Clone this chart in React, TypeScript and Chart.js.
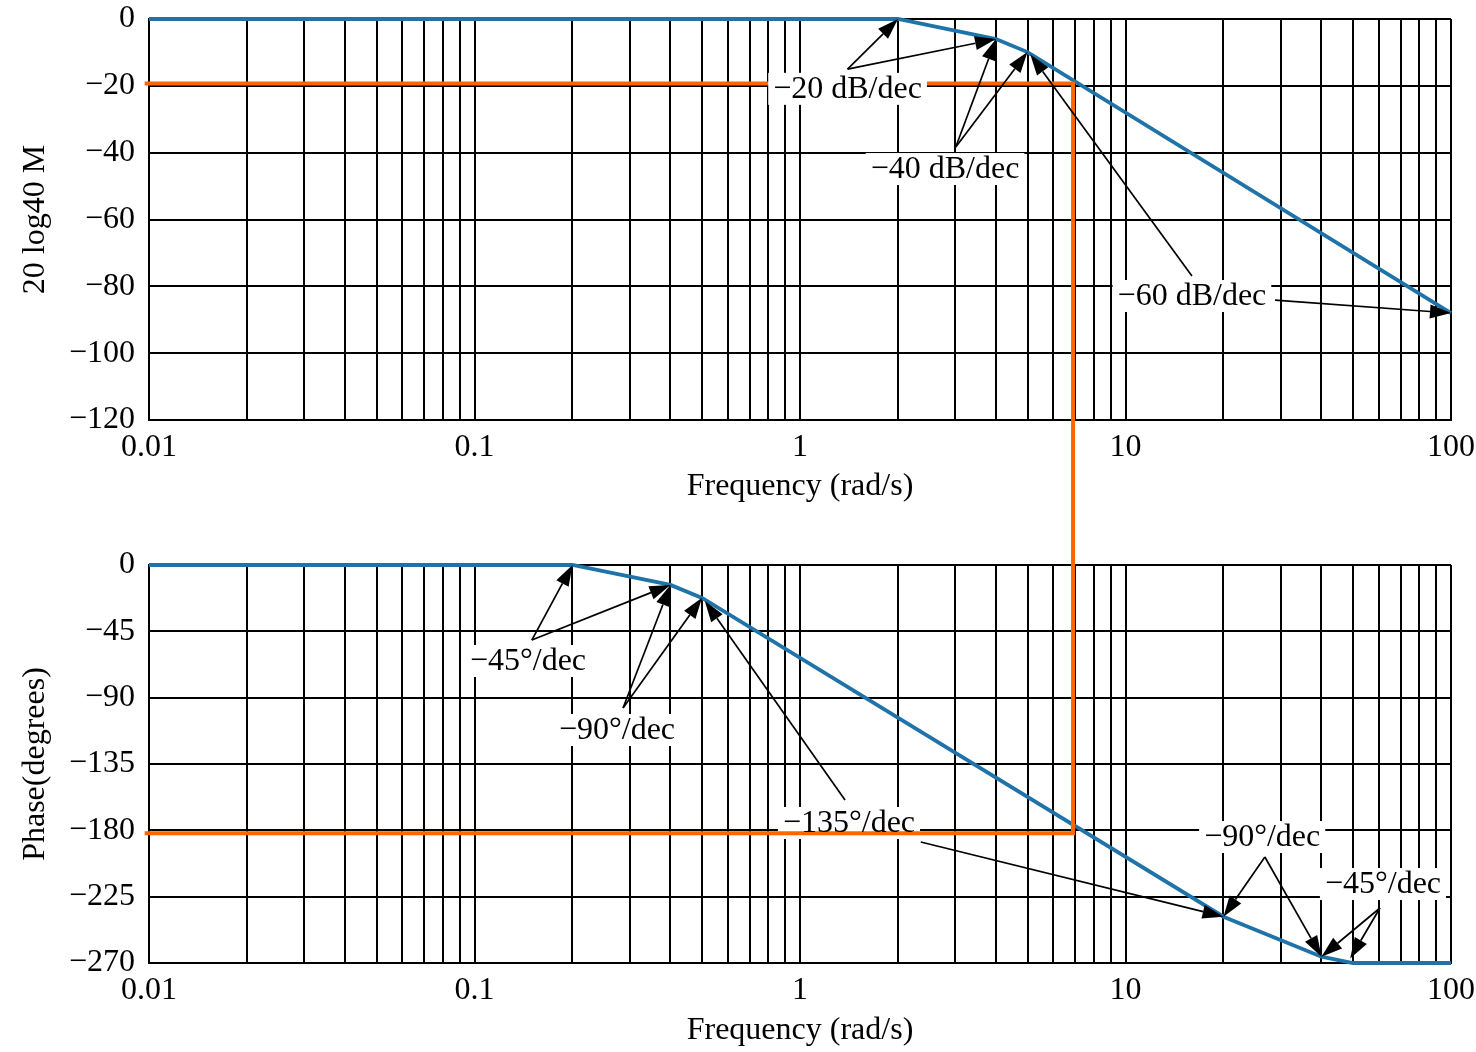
import React, { useEffect, useRef } from 'react';
import { Chart, registerables } from 'chart.js';

Chart.register(...registerables);

const FONT = '"Liberation Serif", "Times New Roman", serif';
const FONT_SIZE = 32;
const BLUE = '#1f73a8';
const ORANGE = '#ff6600';

// x axis (log): decades with labels, minor grid multipliers
const decadeTicks = [0.01, 0.1, 1, 10, 100];
const decadeLabels = ['0.01', '0.1', '1', '10', '100'];
const minorMultipliers = [1, 2, 3, 4, 5, 6, 7, 8, 9];

// magnitude (asymptotic) in dB
const magFreq = [0.01, 2, 4, 5, 100];
const magDb = [0, 0, -6.0, -9.9, -88.0];
const magMin = -120;
const magMax = 0;
const magStep = 20;

// phase (asymptotic) in degrees
const phaseFreq = [0.01, 0.2, 0.4, 0.5, 20, 40, 50, 100];
const phaseDeg = [0, 0, -13.5, -22.3, -238.6, -265.7, -270, -270];
const phaseMin = -270;
const phaseMax = 0;
const phaseStep = 45;

// orange marker path
const markerStartFreq = 0.0097;
const markerFreq = 6.9;
const markerMag = -19.3;
const markerPhase = -182;

// annotations: label text, label centre, arrows [tailX, tailY, tipX, tipY]
const magNoteTexts = ['−20 dB/dec', '−40 dB/dec', '−60 dB/dec'];
const magNoteAt = [[1.40, -21.2], [2.79, -45.2], [16.0, -83.2]];
const magNoteArrows = [
  [[1.40, -15.0, 2, 0], [1.40, -15.0, 4, -6.0]],
  [[3.01, -38.3, 4, -6.0], [3.01, -38.3, 5, -9.9]],
  [[16.0, -76.9, 5.1, -10.6], [28.8, -84.1, 100, -88.0]],
];

const phaseNoteTexts = ['−45°/dec', '−90°/dec', '−135°/dec', '−90°/dec', '−45°/dec'];
const phaseNoteAt = [[0.146, -65.8], [0.274, -112.6], [1.414, -175.7], [26.3, -185.2], [61.8, -217.1]];
const phaseNoteArrows = [
  [[0.150, -50.9, 0.2, 0], [0.150, -50.9, 0.4, -13.5]],
  [[0.286, -97, 0.4, -13.5], [0.286, -97, 0.5, -22.3]],
  [[1.375, -159.4, 0.51, -24.5], [2.35, -187.9, 20, -238.6]],
  [[26.8, -198.1, 20, -238.6], [26.8, -198.1, 40, -265.7]],
  [[60.5, -232.7, 40, -265.7], [60.5, -232.7, 49, -267]],
];

const W = 1476;
const H = 1052;

const gridValues: number[] = [];
decadeTicks.slice(0, -1).forEach((d) => minorMultipliers.forEach((m) => gridValues.push(+(d * m).toPrecision(6))));
gridValues.push(decadeTicks[decadeTicks.length - 1]);

function xLabel(v: number) {
  for (let i = 0; i < decadeTicks.length; i++) {
    if (Math.abs(Math.log10(v) - Math.log10(decadeTicks[i])) < 1e-6) return decadeLabels[i];
  }
  return '';
}
function yLabel(v: number) {
  return v < 0 ? '−' + Math.abs(v) : String(v);
}

function buildOptions(opts: {
  padTop: number; padBottom: number; xHeight: number; xTitlePad: number;
  yMin: number; yMax: number; yStep: number; yTitle: string;
}) {
  const font = { family: FONT, size: FONT_SIZE };
  return {
    responsive: false,
    animation: false as const,
    events: [] as any[],
    layout: { padding: { top: opts.padTop, right: 25, bottom: opts.padBottom, left: 0 } },
    plugins: { legend: { display: false }, tooltip: { enabled: false } },
    scales: {
      x: {
        type: 'logarithmic' as const,
        min: decadeTicks[0],
        max: decadeTicks[decadeTicks.length - 1],
        afterBuildTicks: (s: any) => { s.ticks = gridValues.map((v) => ({ value: v })); },
        afterFit: (s: any) => { s.height = opts.xHeight; s.paddingLeft = 0; s.paddingRight = 0; },
        ticks: {
          autoSkip: false, maxRotation: 0, minRotation: 0, padding: 8,
          color: '#000', font,
          callback: (v: any) => xLabel(Number(v)),
        },
        grid: { color: '#000', lineWidth: 2, drawTicks: false },
        border: { color: '#000', width: 2 },
        title: { display: true, text: 'Frequency (rad/s)', color: '#000', font, padding: { top: 0, bottom: opts.xTitlePad } },
      },
      y: {
        type: 'linear' as const,
        min: opts.yMin, max: opts.yMax,
        afterFit: (s: any) => { s.width = 149; s.paddingTop = 0; s.paddingBottom = 0; },
        ticks: { stepSize: opts.yStep, padding: 14, color: '#000', font, callback: (v: any) => yLabel(Number(v)) },
        grid: { color: '#000', lineWidth: 2, drawTicks: false },
        border: { color: '#000', width: 2 },
        title: { display: true, text: opts.yTitle, color: '#000', font, padding: { top: 16, bottom: 0 } },
      },
    },
  };
}

function drawBoxes(ctx: CanvasRenderingContext2D, texts: string[], at: number[][], sx: any, sy: any) {
  ctx.save();
  ctx.font = `${FONT_SIZE}px ${FONT}`;
  ctx.fillStyle = '#fff';
  texts.forEach((t, i) => {
    const cx = sx.getPixelForValue(at[i][0]);
    const cy = sy.getPixelForValue(at[i][1]);
    const w = ctx.measureText(t).width + 10;
    ctx.fillRect(cx - w / 2, cy - 17, w, 32);
  });
  ctx.restore();
}

function drawArrow(ctx: CanvasRenderingContext2D, x0: number, y0: number, x1: number, y1: number) {
  const a = Math.atan2(y1 - y0, x1 - x0);
  const L = 21, HW = 7;
  const bx = x1 - L * Math.cos(a), by = y1 - L * Math.sin(a);
  ctx.beginPath();
  ctx.moveTo(x0, y0);
  ctx.lineTo(bx, by);
  ctx.stroke();
  ctx.beginPath();
  ctx.moveTo(x1, y1);
  ctx.lineTo(bx + HW * Math.sin(a), by - HW * Math.cos(a));
  ctx.lineTo(bx - HW * Math.sin(a), by + HW * Math.cos(a));
  ctx.closePath();
  ctx.fill();
}

function drawNotes(ctx: CanvasRenderingContext2D, texts: string[], at: number[][], arrows: number[][][], sx: any, sy: any) {
  ctx.save();
  ctx.font = `${FONT_SIZE}px ${FONT}`;
  ctx.fillStyle = '#000';
  ctx.strokeStyle = '#000';
  ctx.lineWidth = 1.7;
  ctx.textAlign = 'center';
  ctx.textBaseline = 'middle';
  texts.forEach((t, i) => {
    ctx.fillText(t, sx.getPixelForValue(at[i][0]), sy.getPixelForValue(at[i][1]));
    arrows[i].forEach((a) => {
      drawArrow(ctx, sx.getPixelForValue(a[0]), sy.getPixelForValue(a[1]), sx.getPixelForValue(a[2]), sy.getPixelForValue(a[3]));
    });
  });
  ctx.restore();
}

export default function App() {
  const topRef = useRef<HTMLCanvasElement | null>(null);
  const botRef = useRef<HTMLCanvasElement | null>(null);

  useEffect(() => {
    if (!topRef.current || !botRef.current) return;
    const topChart = new Chart(topRef.current, {
      type: 'line',
      data: {
        datasets: [{
          data: magFreq.map((f, i) => ({ x: f, y: magDb[i] })),
          borderColor: BLUE, borderWidth: 3.8, pointRadius: 0, tension: 0, clip: false as any,
        }],
      },
      options: buildOptions({ padTop: 19, padBottom: H - 420 - 100, xHeight: 100, xTitlePad: 14, yMin: magMin, yMax: magMax, yStep: magStep, yTitle: '20 log40 M' }) as any,
    });

    const overlay = {
      id: 'bodeOverlay',
      afterDraw(chart: any) {
        const ctx = chart.ctx as CanvasRenderingContext2D;
        const tx = topChart.scales.x, ty = topChart.scales.y;
        const bx = chart.scales.x, by = chart.scales.y;
        drawBoxes(ctx, phaseNoteTexts, phaseNoteAt, bx, by);
        ctx.save();
        ctx.strokeStyle = ORANGE;
        ctx.lineWidth = 4;
        ctx.lineJoin = 'miter';
        ctx.beginPath();
        ctx.moveTo(tx.getPixelForValue(markerStartFreq), ty.getPixelForValue(markerMag));
        ctx.lineTo(tx.getPixelForValue(markerFreq), ty.getPixelForValue(markerMag));
        ctx.lineTo(bx.getPixelForValue(markerFreq), by.getPixelForValue(markerPhase));
        ctx.lineTo(bx.getPixelForValue(markerStartFreq), by.getPixelForValue(markerPhase));
        ctx.stroke();
        ctx.restore();
        drawBoxes(ctx, magNoteTexts, magNoteAt, tx, ty);
        drawNotes(ctx, magNoteTexts, magNoteAt, magNoteArrows, tx, ty);
        drawNotes(ctx, phaseNoteTexts, phaseNoteAt, phaseNoteArrows, bx, by);
      },
    };

    const botChart = new Chart(botRef.current, {
      type: 'line',
      data: {
        datasets: [{
          data: phaseFreq.map((f, i) => ({ x: f, y: phaseDeg[i] })),
          borderColor: BLUE, borderWidth: 3.8, pointRadius: 0, tension: 0, clip: false as any,
        }],
      },
      options: buildOptions({ padTop: 565, padBottom: 0, xHeight: H - 963, xTitlePad: 2, yMin: phaseMin, yMax: phaseMax, yStep: phaseStep, yTitle: 'Phase(degrees)' }) as any,
      plugins: [overlay],
    });

    return () => {
      botChart.destroy();
      topChart.destroy();
    };
  }, []);

  const cs: React.CSSProperties = { position: 'absolute', left: 0, top: 0, width: W, height: H };
  return (
    <div style={{ position: 'absolute', left: 0, top: 0, width: W, height: H, background: '#fff' }}>
      <canvas ref={topRef} width={W} height={H} style={cs} />
      <canvas ref={botRef} width={W} height={H} style={cs} />
    </div>
  );
}
